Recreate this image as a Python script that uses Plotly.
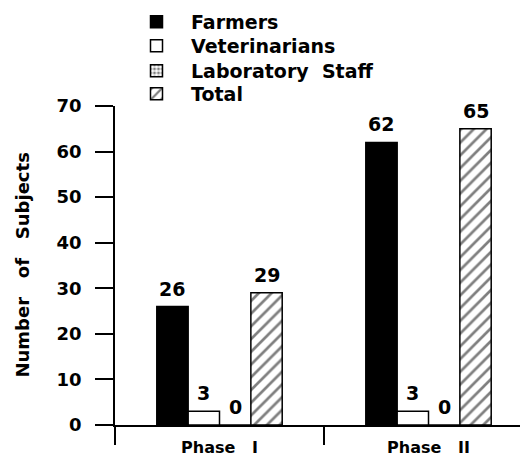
import plotly.graph_objects as go

# Data
phases = ["Phase   I", "Phase   II"]
farmers = [26, 62]
veterinarians = [3, 3]
lab_staff = [0, 0]
total = [29, 65]

FONT = "DejaVu Sans"
bar_line = dict(color="black", width=1.5)
label_font = dict(family=FONT, size=19, color="black", weight="bold")

series = [
    ("Farmers", farmers, dict(color="black", line=bar_line)),
    ("Veterinarians", veterinarians, dict(color="white", line=bar_line)),
    ("Laboratory  Staff", lab_staff,
     dict(color="white", line=bar_line,
          pattern=dict(shape=".", fgcolor="black", bgcolor="white", size=5, solidity=0.45))),
    ("Total", total,
     dict(color="white", line=bar_line,
          pattern=dict(shape="/", fgcolor="black", bgcolor="white", size=9, solidity=0.3))),
]

fig = go.Figure()
legend_keys = ["legend", "legend2", "legend3", "legend4"]
for (name, vals, marker), key in zip(series, legend_keys):
    fig.add_trace(go.Bar(x=phases, y=vals, name=name, legend=key, marker=marker))

# value labels above each bar (bars are ~31.5 px wide, 4 per group)
bar_px = 31.5
for i, (name, vals, _) in enumerate(series):
    for ph, v in zip(phases, vals):
        fig.add_annotation(
            x=ph, y=v, text=str(v), showarrow=False,
            xshift=(i - 1.5) * bar_px, yshift=18, yanchor="middle",
            font=label_font,
        )

# one legend per entry so each row can be placed like the original
legend_font = dict(family=FONT, size=19, color="black", weight="bold")
legend_rows = [14, 38, 63, 86]
legends = {}
for key, row in zip(legend_keys, legend_rows):
    legends[key] = dict(
        xref="container", yref="container", x=114 / 528, y=1 - row / 461,
        xanchor="left", yanchor="middle", font=legend_font,
        itemwidth=59, bgcolor="rgba(0,0,0,0)",
    )

fig.update_layout(
    width=528, height=461,
    margin=dict(l=107, r=8, t=98, b=44, autoexpand=False),
    paper_bgcolor="white", plot_bgcolor="white",
    barmode="group", bargap=0.4, bargroupgap=0,
    font=dict(family=FONT, color="black"),
    showlegend=True,
    **legends,
)

fig.update_xaxes(
    range=[-0.5, 1.476], showline=True, linecolor="black", linewidth=1.5,
    tickson="boundaries", ticks="outside", ticklen=18, tickwidth=1.5, tickcolor="black",
    tickfont=dict(family=FONT, size=16, color="black", weight="bold"),
    ticklabelstandoff=7, showgrid=False, zeroline=False,
)
fig.update_yaxes(
    range=[0, 70], tickvals=[0, 10, 20, 30, 40, 50, 60, 70],
    showline=True, linecolor="black", linewidth=1.5,
    ticks="outside", ticklen=18, tickwidth=1.5, tickcolor="black",
    tickfont=dict(family=FONT, size=18, color="black", weight="bold"),
    ticklabelstandoff=10, showgrid=False, zeroline=False,
)

fig.add_annotation(
    text="Number   of   Subjects", textangle=-90,
    xref="paper", yref="paper", x=-0.225, y=0.5, xanchor="center", yanchor="middle",
    showarrow=False, font=dict(family=FONT, size=18, color="black", weight="bold"),
)

fig.write_html("out.html")
